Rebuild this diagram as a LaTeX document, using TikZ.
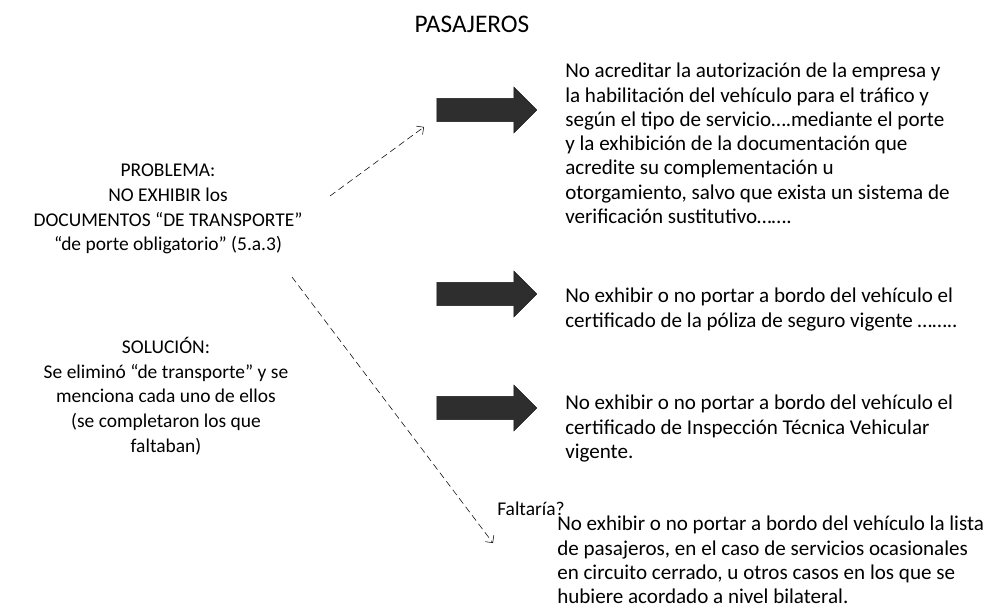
\documentclass[tikz,border=0pt]{standalone}
\usepackage{fontspec}
\setmainfont{Carlito}
\usetikzlibrary{shapes.arrows,arrows.meta}

\tikzset{
  txt/.style={inner sep=0pt, font=\fontsize{14.6}{18.5}\selectfont},
  reqtxt/.style={inner sep=0pt, align=left, anchor=north west, font=\fontsize{15.8}{18.2}\selectfont},
  bigarrow/.style={single arrow, draw=black!90, fill=black!82, inner sep=0pt,
    minimum height=75pt, minimum width=33pt, single arrow head extend=8.5pt},
  dashlink/.style={dash pattern=on 5pt off 3pt, thin, -{Straight Barb[length=4pt]}}
}

\begin{document}
\begin{tikzpicture}[x=0.75pt,y=-0.75pt]
  \useasboundingbox (0,0) rectangle (986,607);

  % title
  \node (title) at (472,24) [font=\fontsize{19}{22}\selectfont] {PASAJEROS};

  % left column
  \node (prob) at (168,164) [txt, align=center, anchor=north] {PROBLEMA:\\ NO EXHIBIR los\\ DOCUMENTOS “DE TRANSPORTE”\\ “de porte obligatorio” (5.a.3)\hspace{12pt}};
  \node (sol) at (166,337) [txt, align=center, anchor=north] {SOLUCIÓN:\\ Se eliminó “de transporte” y se\\ menciona cada uno de ellos\\ (se completaron los que\\ faltaban)};

  % arrows
  \node (arr1) at (481,110) [bigarrow] {\rule{0pt}{17pt}};
  \node (arr2) at (481,294) [bigarrow] {\rule{0pt}{17pt}};
  \node (arr3) at (481,408) [bigarrow] {\rule{0pt}{17pt}};

  % right column
  \node (req1) at (565,63) [reqtxt] {No acreditar la autorización de la empresa y\\ la habilitación del vehículo para el tráfico y\\ según el tipo de servicio….mediante el porte\\ y la exhibición de la documentación que\\ acredite su complementación u\\ otorgamiento, salvo que exista un sistema de\\ verificación sustitutivo…….};
  \node (req2) at (565,288) [reqtxt] {No exhibir o no portar a bordo del vehículo el\\ certificado de la póliza de seguro vigente ……..};
  \node (req3) at (565,395) [reqtxt] {No exhibir o no portar a bordo del vehículo el\\ certificado de Inspección Técnica Vehicular\\ vigente.};
  \node (falta) at (497,509) [txt, anchor=west] {Faltaría?};
  \node (req4) at (557,516) [reqtxt] {No exhibir o no portar a bordo del vehículo la lista\\ de pasajeros, en el caso de servicios ocasionales\\ en circuito cerrado, u otros casos en los que se\\ hubiere acordado a nivel bilateral.};

  % dashed links
  \coordinate (s1) at (330,196);
  \coordinate (e1) at (424,127);
  \coordinate (s2) at (292,277);
  \coordinate (e2) at (493,543);
  \draw[dashlink] (s1) -- (e1);
  \draw[dashlink] (s2) -- (e2);
\end{tikzpicture}
\end{document}
